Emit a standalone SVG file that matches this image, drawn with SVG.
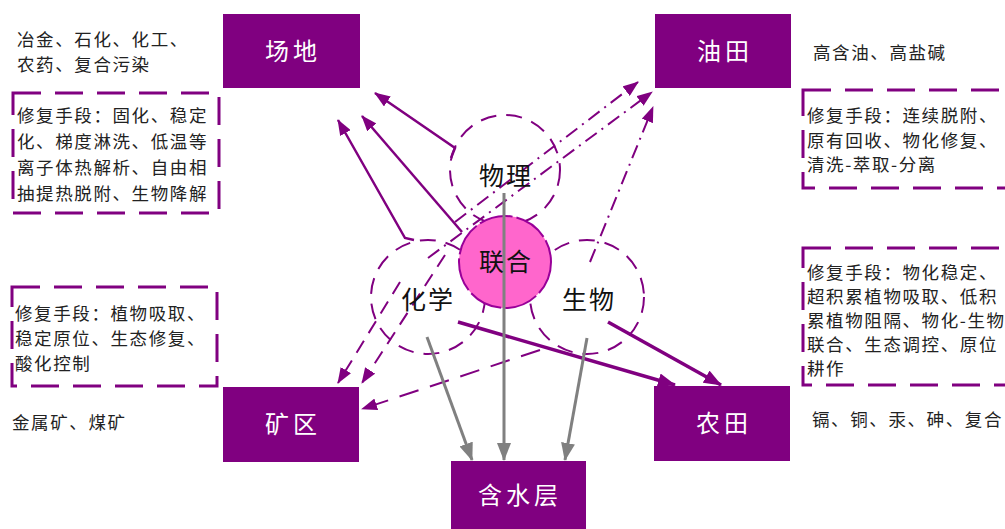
<svg xmlns="http://www.w3.org/2000/svg" width="1005" height="529" viewBox="0 0 1005 529">
<defs>
<style>
.box{fill:#800080;}
.title{fill:#ffffff;font-family:"Noto Sans CJK SC","Noto Sans",sans-serif;font-size:24px;letter-spacing:4px;text-anchor:middle;}
.note{fill:#222;font-family:"Noto Sans CJK SC","Noto Sans",sans-serif;font-size:17.5px;letter-spacing:1.6px;}
.dbox{fill:none;stroke:#800080;stroke-width:3;stroke-dasharray:28 14;}
.bub{fill:none;stroke:#800080;stroke-width:2;stroke-dasharray:16 10;}
.lab{fill:#111;font-family:"Noto Sans CJK SC","Noto Sans",sans-serif;font-size:25px;letter-spacing:2px;text-anchor:middle;}
.sp{fill:none;stroke:#800080;stroke-width:2.5;marker-end:url(#ap);}
.dd{fill:none;stroke:#800080;stroke-width:2;stroke-dasharray:14 6 2 6;marker-end:url(#ap);}
.dl{fill:none;stroke:#800080;stroke-width:2;stroke-dasharray:14 9;marker-end:url(#ap);}
.tp{fill:none;stroke:#800080;stroke-width:3.5;marker-end:url(#apb);}
.gr{fill:none;stroke:#808080;stroke-width:3;marker-end:url(#ag);}
</style>
<marker id="ap" markerUnits="userSpaceOnUse" markerWidth="16" markerHeight="12" refX="15" refY="6" orient="auto"><path d="M0,0 L16,6 L0,12 z" fill="#800080"/></marker>
<marker id="apb" markerUnits="userSpaceOnUse" markerWidth="18" markerHeight="14" refX="17" refY="7" orient="auto"><path d="M0,0 L18,7 L0,14 z" fill="#800080"/></marker>
<marker id="ag" markerUnits="userSpaceOnUse" markerWidth="18" markerHeight="14" refX="17" refY="7" orient="auto"><path d="M0,0 L18,7 L0,14 z" fill="#808080"/></marker>
</defs>
<rect width="1005" height="529" fill="#ffffff"/>

<g id="notes">
<text class="note" x="17" y="46">冶金、石化、化工、</text>
<text class="note" x="17" y="71">农药、复合污染</text>
<rect class="dbox" x="13" y="93" width="206" height="120"/>
<text class="note" x="17" y="122">修复手段：固化、稳定</text>
<text class="note" x="17" y="148">化、梯度淋洗、低温等</text>
<text class="note" x="17" y="174">离子体热解析、自由相</text>
<text class="note" x="17" y="200">抽提热脱附、生物降解</text>

<rect class="dbox" x="12" y="287" width="205" height="99"/>
<text class="note" x="15" y="320">修复手段：植物吸取、</text>
<text class="note" x="15" y="345">稳定原位、生态修复、</text>
<text class="note" x="15" y="370">酸化控制</text>
<text class="note" x="12" y="429">金属矿、煤矿</text>

<text class="note" x="813" y="59">高含油、高盐碱</text>
<rect class="dbox" x="803" y="90" width="230" height="98"/>
<text class="note" x="807" y="122">修复手段：连续脱附、</text>
<text class="note" x="807" y="147">原有回收、物化修复、</text>
<text class="note" x="807" y="171">清洗-萃取-分离</text>

<rect class="dbox" x="803" y="248" width="230" height="137"/>
<text class="note" x="807" y="279">修复手段：物化稳定、</text>
<text class="note" x="807" y="303">超积累植物吸取、低积</text>
<text class="note" x="807" y="327">累植物阻隔、物化-生物</text>
<text class="note" x="807" y="351">联合、生态调控、原位</text>
<text class="note" x="807" y="375">耕作</text>
<text class="note" x="812" y="426">镉、铜、汞、砷、复合</text>
</g>

<g id="bubbles">
<circle class="bub" cx="505" cy="170" r="55"/>
<circle class="bub" cx="428" cy="297" r="57"/>
<circle class="bub" cx="587" cy="297" r="57"/>
</g>

<g id="node-lianhe">
<circle cx="505" cy="262" r="46" fill="#FF66CC" stroke="#990099" stroke-width="2" stroke-dasharray="34 4"/>
</g>

<g id="connectors">
<path class="sp" d="M451,158 L455,148 L375,93"/>
<path class="sp" d="M462,232 L362,116"/>
<path class="sp" d="M414,240 L405,238 L338,120"/>
<path class="dd" d="M455,222 L638,82"/>
<path class="dd" d="M428,258 L652,92"/>
<path class="dd" d="M590,262 L653,107"/>
<path class="dl" d="M400,282 L338,383"/>
<path class="dl" d="M445,255 L362,383"/>
<path class="dl" style="stroke-dasharray:20 12" d="M540,350 L362,409"/>
<path class="tp" d="M458,322 L675,385"/>
<path class="tp" d="M608,322 L721,385"/>
<path class="gr" d="M427,337 L472,460"/>
<path class="gr" d="M504,193 L504,460"/>
<path class="gr" d="M587,338 L565,460"/>
</g>

<g id="labels">
<text class="lab" x="506" y="185">物理</text>
<text class="lab" x="428" y="309">化学</text>
<text class="lab" x="589" y="309">生物</text>
<text class="lab" x="506" y="271">联合</text>
</g>

<g id="node-changdi"><rect class="box" x="223" y="14" width="137" height="74"/><text class="title" x="293" y="60">场地</text></g>
<g id="node-youtian"><rect class="box" x="655" y="14" width="136" height="74"/><text class="title" x="725" y="60">油田</text></g>
<g id="node-kuangqu"><rect class="box" x="223" y="387" width="136" height="75"/><text class="title" x="293" y="433">矿区</text></g>
<g id="node-nongtian"><rect class="box" x="654" y="386" width="136" height="75"/><text class="title" x="724" y="432">农田</text></g>
<g id="node-hanshuiceng"><rect class="box" x="451" y="461" width="135" height="70"/><text class="title" x="520" y="504">含水层</text></g>
</svg>
